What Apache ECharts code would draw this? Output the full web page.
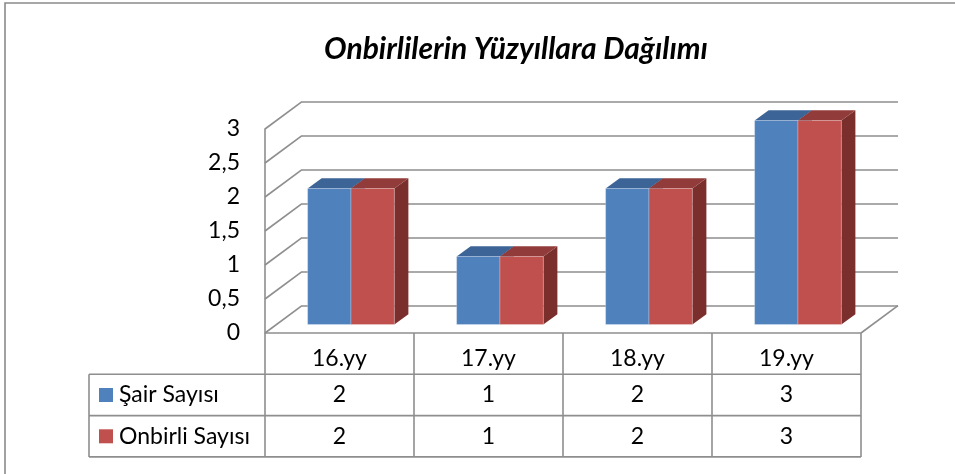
<!DOCTYPE html>
<html><head><meta charset="utf-8">
<script src="https://cdn.jsdelivr.net/npm/echarts@6/dist/echarts.min.js"></script>
<style>html,body{margin:0;padding:0;background:#fff}#c{width:955px;height:474px}</style>
</head><body><div id="c"></div><script>
// ---- data ----
const chartTitle = 'Onbirlilerin Yüzyıllara Dağılımı';
const categories = ['16.yy', '17.yy', '18.yy', '19.yy'];
const seriesNames = ['Şair Sayısı', 'Onbirli Sayısı'];
const sairValues = [2, 1, 2, 3];
const onbirliValues = [2, 1, 2, 3];
const yMin = 0, yMax = 3, yStep = 0.5;

// ---- style ----
const FONT = 'Lato';
const FS = 23;
const GRID_COLOR = '#8e8e8e';
const FRONT = ['#4F81BD', '#C0504D'];
const TOPC = ['#3D6496', '#913C3A'];
const SIDE = ['#365985', '#7A2F2D'];
const DX = 37, DY = -27.3;          // depth vector front -> back wall
const T_FRONT = 0.31, T_DEPTH = 0.38;
const BAR_FRAC = 0.291;
const ROW_H = 41.3;

const tickValues = [];
for (let v = yMin; v <= yMax + 1e-9; v += yStep) tickValues.push(+v.toFixed(2));

function barRender(sIdx) {
  return function (params, api) {
    const i = api.value(0), v = api.value(1);
    const base = api.coord([i, 0]);
    const top = api.coord([i, v]);
    const cw = api.size([1, 0])[0];
    const bw = cw * BAR_FRAC;
    const ox = DX * T_FRONT, oy = DY * T_FRONT;
    const x0 = sIdx === 0 ? base[0] + ox - bw : base[0] + ox;
    const x1 = x0 + bw;
    const yb = base[1] + oy, yt = top[1] + oy;
    const ddx = DX * T_DEPTH, ddy = DY * T_DEPTH;
    return {
      type: 'group',
      children: [
        { type: 'polygon', shape: { points: [[x1, yt], [x1 + ddx, yt + ddy], [x1 + ddx, yb + ddy], [x1, yb]] }, style: { fill: SIDE[sIdx] } },
        { type: 'polygon', shape: { points: [[x0, yt], [x1, yt], [x1 + ddx, yt + ddy], [x0 + ddx, yt + ddy]] }, style: { fill: TOPC[sIdx] } },
        { type: 'rect', shape: { x: x0, y: yt, width: bw, height: yb - yt }, style: { fill: FRONT[sIdx], stroke: 'rgba(255,255,255,0.25)', lineWidth: 1 } }
      ]
    };
  };
}

const lineStyle = { stroke: GRID_COLOR, lineWidth: 1.6 };
const textStyleBase = { fontFamily: FONT, fontSize: FS, fill: '#000' };

const option = {
  animation: false,
  backgroundColor: '#fff',
  title: {
    text: chartTitle, left: 511, top: 29, textAlign: 'center',
    textStyle: { fontFamily: FONT, fontSize: 30, fontWeight: 'bold', fontStyle: 'italic', color: '#000' }
  },
  legend: {
    orient: 'vertical', left: 99, top: 383.5, padding: 0, itemWidth: 14, itemHeight: 14, itemGap: 18.3,
    icon: 'rect', data: seriesNames, selectedMode: false,
    textStyle: { fontFamily: FONT, fontSize: FS, color: '#000', padding: [0, 0, 0, 1] }
  },
  graphic: [{
    type: 'rect', shape: { x: 5, y: 3, width: 1200, height: 1000 },
    style: { fill: 'none', stroke: '#8a8a8a', lineWidth: 1.6 }, z: 100, silent: true
  }],
  grid: [
    { left: 265, top: 129, width: 596, height: 204 },      // front plane
    { left: 302, top: 101.7, width: 596, height: 204 }     // back wall
  ],
  xAxis: [
    { type: 'category', data: categories, gridIndex: 0, show: false },
    { type: 'category', data: categories, gridIndex: 1, show: false }
  ],
  yAxis: [
    { type: 'value', gridIndex: 0, min: yMin, max: yMax, interval: yStep,
      axisLine: { show: true, lineStyle: { color: GRID_COLOR, width: 1.6 } },
      axisTick: { show: false }, splitLine: { show: false },
      axisLabel: { margin: 25, fontFamily: FONT, fontSize: FS, color: '#000', padding: [7, 0, 0, 0],
        formatter: v => String(v).replace('.', ',') } },
    { type: 'value', gridIndex: 1, min: yMin, max: yMax, interval: yStep,
      axisLine: { show: false }, axisTick: { show: false }, axisLabel: { show: false },
      splitLine: { show: true, lineStyle: { color: GRID_COLOR, width: 1.6 } } }
  ],
  series: [
    { // side wall lines
      type: 'custom', name: 'sidewall', xAxisIndex: 0, yAxisIndex: 0, z: 1, silent: true,
      data: tickValues.map(v => [0, v]),
      renderItem: function (params, api) {
        const y = api.coord([0, api.value(1)])[1];
        const x = params.coordSys.x;
        return { type: 'line', shape: { x1: x, y1: y, x2: x + DX, y2: y + DY }, style: lineStyle };
      }
    },
    { // data table + floor edges
      type: 'custom', name: 'table', xAxisIndex: 0, yAxisIndex: 0, z: 1, silent: true,
      data: categories.map((c, i) => [i, sairValues[i], onbirliValues[i]]),
      renderItem: function (params, api) {
        const i = api.value(0);
        const p = api.coord([i, 0]);
        const cw = api.size([1, 0])[0];
        const cx = p[0], y0 = p[1];
        const xl = cx - cw / 2, xr = cx + cw / 2;
        const ch = [
          { type: 'line', shape: { x1: xl, y1: y0, x2: xr, y2: y0 }, style: lineStyle },
          { type: 'line', shape: { x1: xl, y1: y0 + ROW_H, x2: xr, y2: y0 + ROW_H }, style: lineStyle },
          { type: 'line', shape: { x1: xl, y1: y0 + 2 * ROW_H, x2: xr, y2: y0 + 2 * ROW_H }, style: lineStyle },
          { type: 'line', shape: { x1: xl, y1: y0 + 3 * ROW_H, x2: xr, y2: y0 + 3 * ROW_H }, style: lineStyle },
          { type: 'line', shape: { x1: xr, y1: y0, x2: xr, y2: y0 + 3 * ROW_H }, style: lineStyle },
          { type: 'text', style: Object.assign({ text: categories[i], x: cx, y: y0 + 26, align: 'center', verticalAlign: 'middle' }, textStyleBase) },
          { type: 'text', style: Object.assign({ text: String(api.value(1)), x: cx, y: y0 + 1.5 * ROW_H, align: 'center', verticalAlign: 'middle' }, textStyleBase) },
          { type: 'text', style: Object.assign({ text: String(api.value(2)), x: cx, y: y0 + 2.5 * ROW_H, align: 'center', verticalAlign: 'middle' }, textStyleBase) }
        ];
        if (i === 0) {
          const lx = 89;
          ch.push({ type: 'line', shape: { x1: xl, y1: y0, x2: xl, y2: y0 + 3 * ROW_H }, style: lineStyle });
          ch.push({ type: 'line', shape: { x1: lx, y1: y0 + ROW_H, x2: xl, y2: y0 + ROW_H }, style: lineStyle });
          ch.push({ type: 'line', shape: { x1: lx, y1: y0 + 2 * ROW_H, x2: xl, y2: y0 + 2 * ROW_H }, style: lineStyle });
          ch.push({ type: 'line', shape: { x1: lx, y1: y0 + 3 * ROW_H, x2: xl, y2: y0 + 3 * ROW_H }, style: lineStyle });
          ch.push({ type: 'line', shape: { x1: lx, y1: y0 + ROW_H, x2: lx, y2: y0 + 3 * ROW_H }, style: lineStyle });
        }
        if (i === categories.length - 1) {
          ch.push({ type: 'line', shape: { x1: xr, y1: y0, x2: xr + DX, y2: y0 + DY }, style: lineStyle });
        }
        return { type: 'group', children: ch };
      }
    },
    {
      type: 'custom', name: seriesNames[0], xAxisIndex: 0, yAxisIndex: 0, z: 3,
      itemStyle: { color: FRONT[0] },
      data: categories.map((c, i) => [i, sairValues[i]]),
      renderItem: barRender(0)
    },
    {
      type: 'custom', name: seriesNames[1], xAxisIndex: 0, yAxisIndex: 0, z: 4,
      itemStyle: { color: FRONT[1] },
      data: categories.map((c, i) => [i, onbirliValues[i]]),
      renderItem: barRender(1)
    }
  ]
};
const chart = echarts.init(document.getElementById('c'), null, { renderer: 'canvas' });
chart.setOption(option);
</script></body></html>
